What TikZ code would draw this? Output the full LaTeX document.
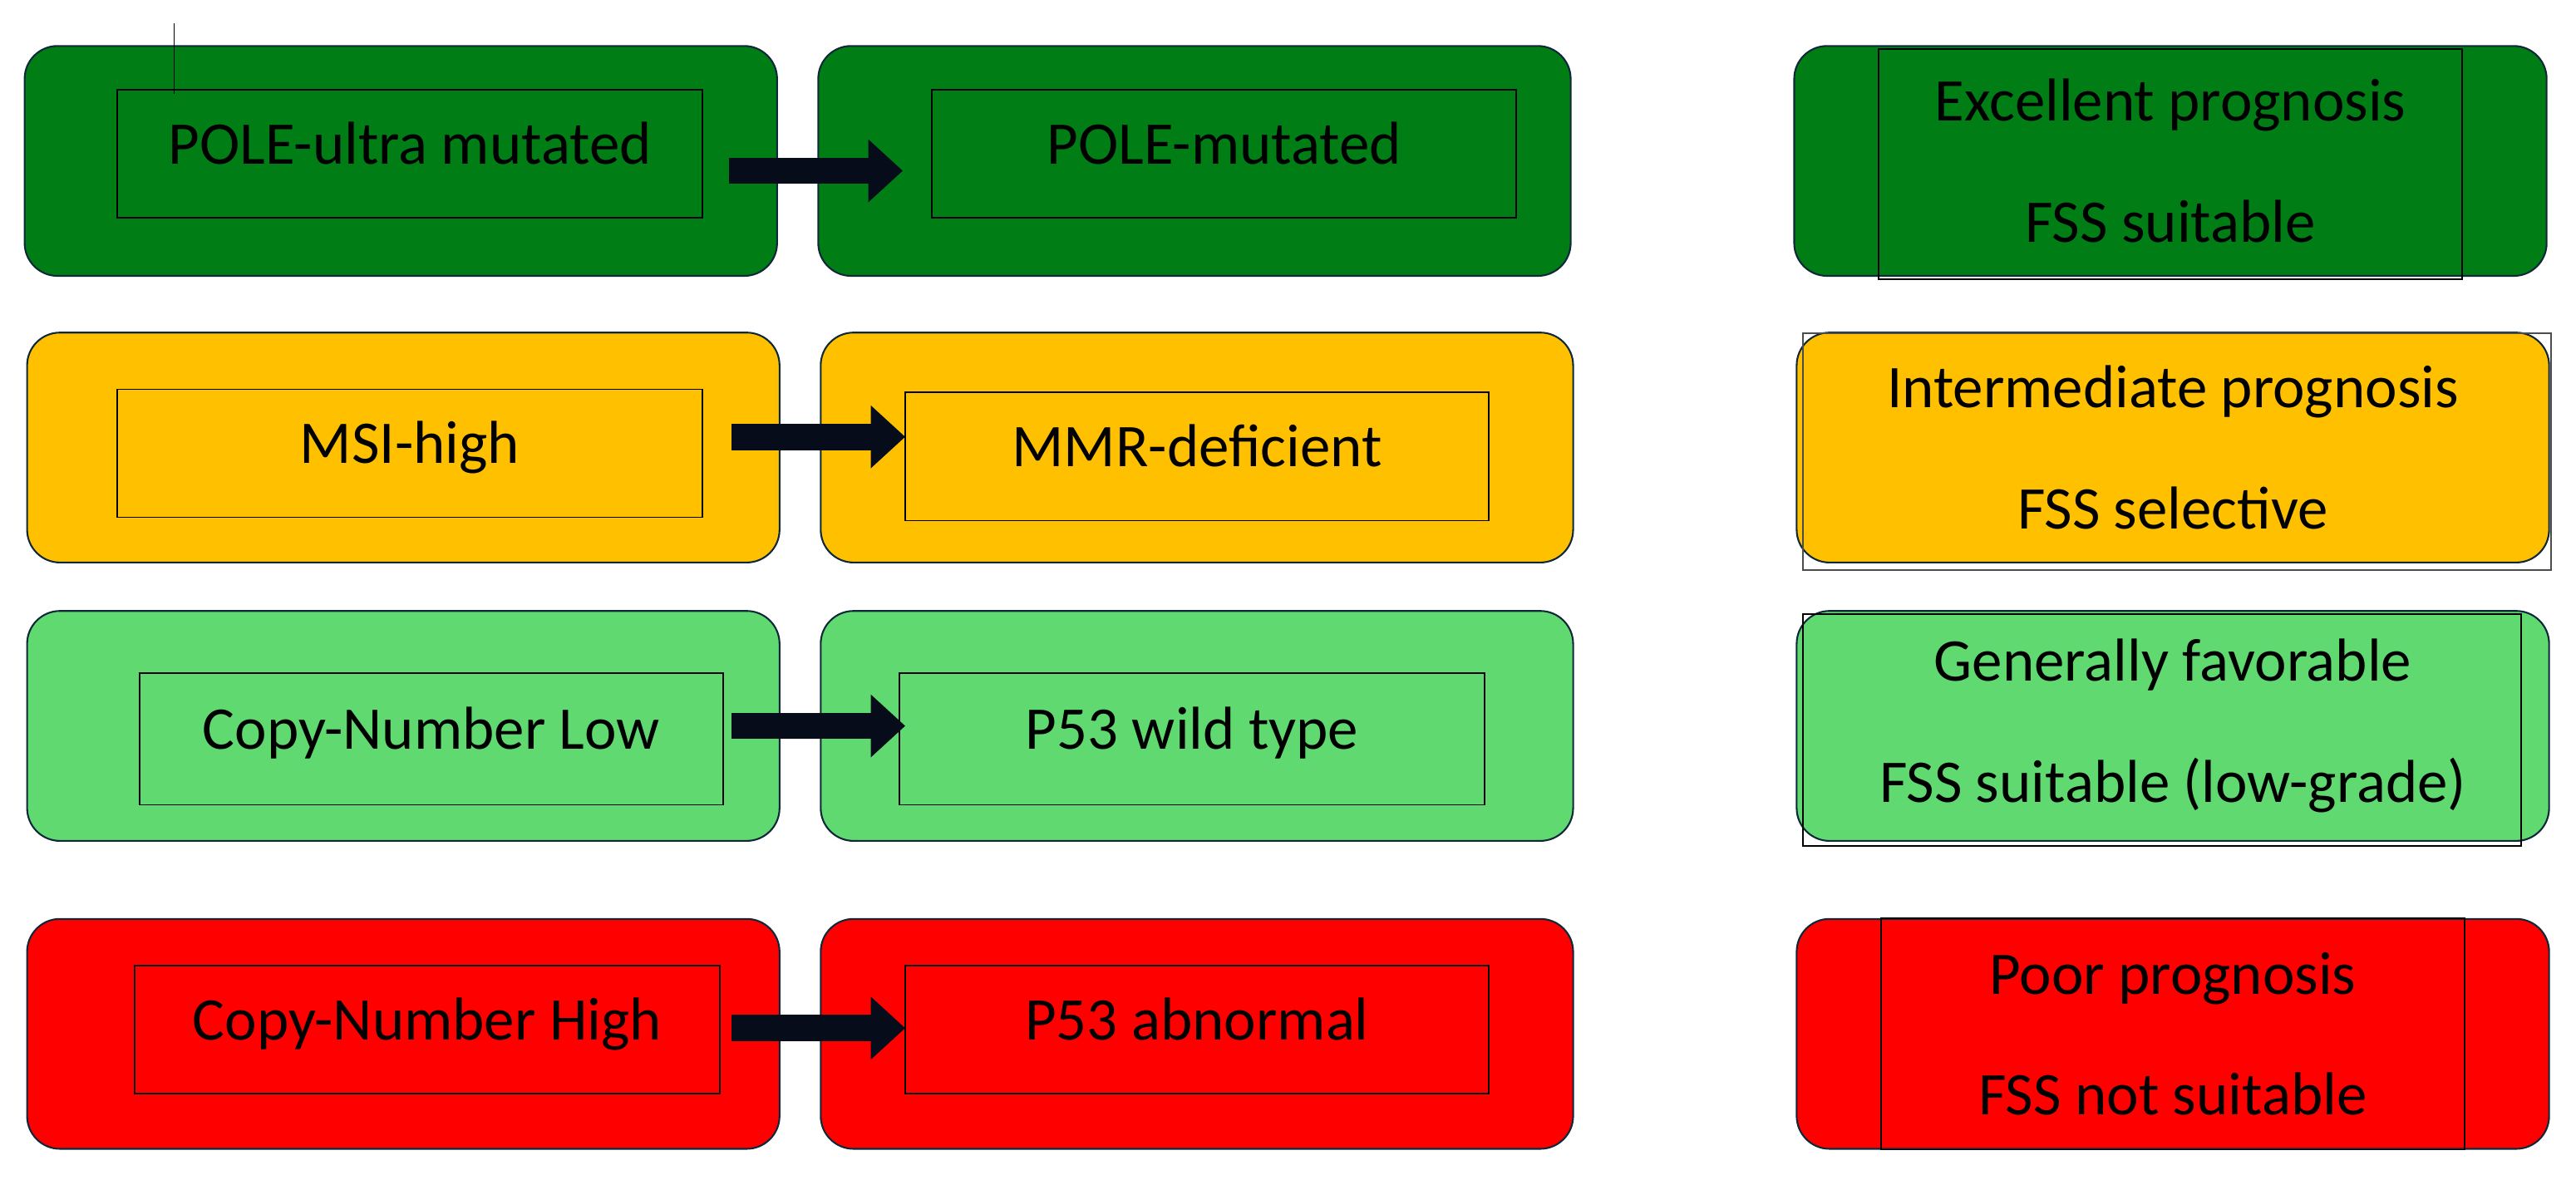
\documentclass[tikz,border=0pt]{standalone}
\usepackage{fontspec}
\setmainfont{Carlito}
\usetikzlibrary{arrows.meta, positioning}
\definecolor{DeepGreen}{RGB}{0,125,20}
\definecolor{Amber}{RGB}{255,192,0}
\definecolor{LightGreen}{RGB}{95,217,112}
\definecolor{AlertRed}{RGB}{255,0,0}
\definecolor{EdgeNavy}{RGB}{14,40,58}
\definecolor{ArrowInk}{RGB}{6,12,26}

\begin{document}
\begin{tikzpicture}[
    node distance=0.48cm and 0.48cm,
    box/.style={
        draw=EdgeNavy,
        line width=0.6pt,
        rounded corners=0.4cm,
        fill=#1,
        minimum width=9.16cm,
        minimum height=2.8cm,
        inner sep=0pt
    },
    inbox/.style={
        draw=black,
        line width=0.5pt,
        minimum width=7.12cm,
        minimum height=1.56cm,
        text height=0.55cm,
        text depth=0.3cm,
        inner sep=0pt
    },
    frame/.style={draw=black, line width=0.5pt, inner sep=0pt},
    arr/.style={-{Triangle[length=0.42cm, width=0.74cm]}, line width=0.32cm, color=ArrowInk},
    every node/.style={font=\fontsize{21pt}{25pt}\selectfont},
    two/.style={align=center, font=\fontsize{21pt}{42pt}\selectfont}
]
\useasboundingbox (0,0) rectangle (31.36,-14.36);

% ROW 1
\node[box=DeepGreen] (l1) at (4.88,-1.96) {};
\node[box=DeepGreen, right=of l1] (m1) {};
\node[box=DeepGreen, two, right=2.7cm of m1] (r1)
{Excellent prognosis\\FSS suitable};

\node[inbox] (li1) at ([shift={(0.11,0.09)}]l1.center) {POLE-ultra mutated};
\node[inbox] (mi1) at ([shift={(0.36,0.09)}]m1.center) {POLE-mutated};
\node[frame, minimum width=7.1cm, minimum height=2.8cm]
(rf1) at ([shift={(0,-0.04)}]r1.center) {};

\coordinate (tick) at (2.12,-0.28);
\draw[line width=0.5pt] (tick) -- ([yshift=-0.06cm]tick |- li1.north);

\draw[arr] ([shift={(-0.6,-0.12)}]l1.east) -- ([shift={(1.04,-0.12)}]m1.west);

% ROW 2
\node[box=Amber] (l2) at (4.91,-5.45) {};
\node[box=Amber, right=of l2] (m2) {};
\node[box=Amber, two, right=2.7cm of m2] (r2)
{Intermediate prognosis\\FSS selective};

\node[inbox] (li2) at ([shift={(0.08,-0.07)}]l2.center) {MSI-high};
\node[inbox, minimum width=7.1cm] (mi2) at ([shift={(0,-0.11)}]m2.center) {MMR-deficient};
\node[frame, draw=black!70, minimum width=9.1cm, minimum height=2.88cm]
(rf2) at ([shift={(0.05,-0.05)}]r2.center) {};

\draw[arr] ([shift={(-0.6,0.13)}]l2.east) -- ([shift={(1.04,0.13)}]m2.west);

% ROW 3
\node[box=LightGreen] (l3) at (4.91,-8.84) {};
\node[box=LightGreen, right=of l3] (m3) {};
\node[box=LightGreen, two, right=2.7cm of m3] (r3)
{Generally favorable\\FSS suitable (low-grade)};

\node[inbox, minimum width=7.1cm, minimum height=1.6cm]
(li3) at ([shift={(0.34,-0.16)}]l3.center) {Copy-Number Low};
\node[inbox, minimum height=1.6cm] (mi3) at ([shift={(-0.06,-0.16)}]m3.center) {P53 wild type};
\node[frame, minimum width=8.74cm, minimum height=2.82cm]
(rf3) at ([shift={(-0.13,-0.05)}]r3.center) {};

\draw[arr] ([shift={(-0.6,0)}]l3.east) -- ([shift={(1.04,0)}]m3.west);

% ROW 4
\node[box=AlertRed] (l4) at (4.91,-12.59) {};
\node[box=AlertRed, right=of l4] (m4) {};
\node[box=AlertRed, two, right=2.7cm of m4] (r4)
{Poor prognosis\\FSS not suitable};

\node[inbox] (li4) at ([shift={(0.29,0.05)}]l4.center) {Copy-Number High};
\node[inbox, minimum width=7.1cm] (mi4) at ([shift={(0,0.05)}]m4.center) {P53 abnormal};
\node[frame, minimum width=7.1cm, minimum height=2.82cm] (rf4) at (r4.center) {};

\draw[arr] ([shift={(-0.6,0.07)}]l4.east) -- ([shift={(1.04,0.07)}]m4.west);

\end{tikzpicture}
\end{document}
